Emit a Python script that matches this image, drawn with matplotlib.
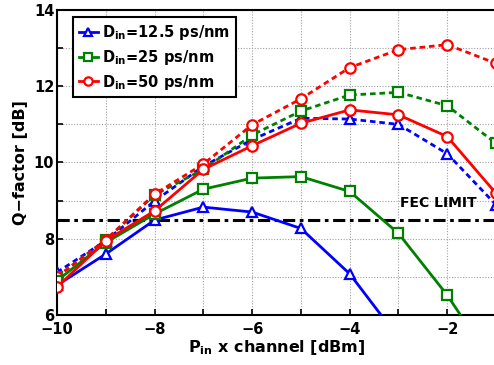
import matplotlib.pyplot as plt

plt.rcParams['font.family'] = 'DejaVu Sans'
plt.rcParams['font.weight'] = 'bold'
plt.rcParams['mathtext.default'] = 'bf'

pin = [-10, -9, -8, -7, -6, -5, -4, -3, -2, -1]

# solid curves
q_125_solid = [6.78, 7.6, 8.49, 8.83, 8.7, 8.27, 7.08, 5.4, 4.5, 3.5]
q_25_solid = [6.9, 7.9, 8.65, 9.3, 9.59, 9.63, 9.24, 8.14, 6.52, 4.6]
q_50_solid = [6.73, 7.95, 8.73, 9.82, 10.44, 11.03, 11.38, 11.25, 10.68, 9.19]
# dotted curves
q_125_dot = [7.12, 7.95, 8.99, 9.9, 10.6, 11.16, 11.14, 11.0, 10.23, 8.89]
q_25_dot = [7.0, 7.97, 9.15, 9.82, 10.72, 11.35, 11.77, 11.84, 11.49, 10.5]
q_50_dot = [7.0, 7.97, 9.17, 9.96, 10.99, 11.67, 12.49, 12.96, 13.09, 12.6]

labels = [r'D$_{in}$=12.5 ps/nm', r'D$_{in}$=25 ps/nm', r'D$_{in}$=50 ps/nm']
colors = ['#0000ff', '#008000', '#ff0000']
markers = ['^', 's', 'o']
fec_limit = 8.5

fig = plt.figure(figsize=(4.94, 3.65), dpi=100)
ax = fig.add_axes([0.1154, 0.137, 0.8887, 0.8356])

solids = [q_125_solid, q_25_solid, q_50_solid]
dots = [q_125_dot, q_25_dot, q_50_dot]
for i in range(3):
    ax.plot(pin, dots[i], linestyle=(0, (2, 1.4)), color=colors[i], lw=2,
            marker=markers[i], ms=7.5, mfc='white', mew=1.6, zorder=3)
for i in range(3):
    ax.plot(pin, solids[i], '-', color=colors[i], lw=2, label=labels[i],
            marker=markers[i], ms=7.5, mfc='white', mew=1.6, zorder=4)

ax.axhline(fec_limit, color='black', lw=2.2, linestyle=(0, (4, 1.5, 1.2, 1.5)), zorder=2)
ax.text(-2.96, 8.93, 'FEC LIMIT', fontsize=10, fontweight='bold', va='center')

ax.set_xlim(-10, -1)
ax.set_ylim(6, 14)
ax.set_xticks(range(-10, 0))
ax.set_xticklabels(['\u2212%d' % (-v) if v % 2 == 0 else '' for v in range(-10, 0)])
ax.set_yticks(range(6, 15))
ax.set_yticklabels([str(v) if v % 2 == 0 else '' for v in range(6, 15)])
ax.tick_params(direction='in', labelsize=10.5, width=1.2, length=4)
ax.tick_params(axis='x', pad=5)
ax.tick_params(axis='y', pad=2)
ax.grid(True, color='#a0a0a0', linestyle=(0, (1, 1.5)), lw=0.8)
for s in ax.spines.values():
    s.set_linewidth(1.5)

ax.set_xlabel(r'P$_{in}$ x channel [dBm]', fontsize=11.5, fontweight='bold', labelpad=1)
ax.set_ylabel('Q\u2212factor [dB]', fontsize=11.5, fontweight='bold', labelpad=4)

leg = ax.legend(loc='upper left', bbox_to_anchor=(0.036, 0.977), borderaxespad=0,
                fancybox=False, edgecolor='black', fontsize=10.5, handlelength=1.3,
                handletextpad=0.3, labelspacing=0.4, borderpad=0.4, framealpha=1,
                markerscale=0.8)
leg.get_frame().set_linewidth(1.5)

plt.savefig('out.png', dpi=100)
